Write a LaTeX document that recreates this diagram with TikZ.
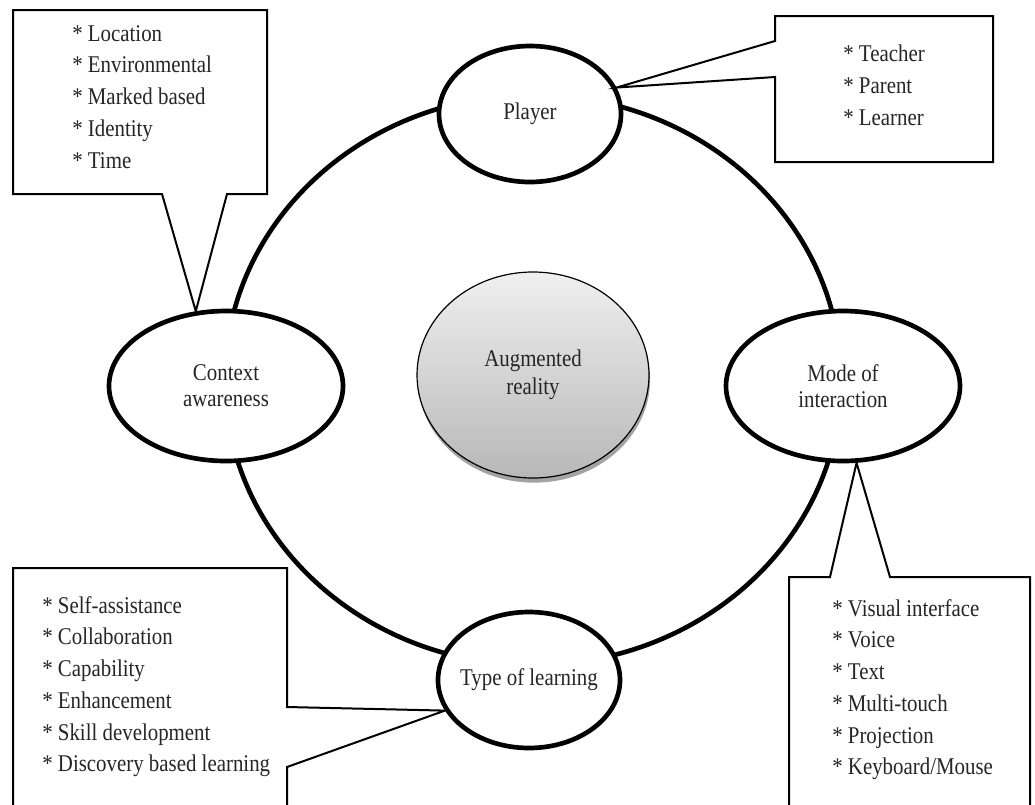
\documentclass[tikz,border=0pt]{standalone}
\usepackage{fontspec}
\setmainfont{Liberation Serif}[FakeStretch=0.87]
\usetikzlibrary{shapes.geometric,shadows}

\begin{document}
\begin{tikzpicture}[x=0.75pt,y=-0.75pt,
  lbl/.style={font=\fontsize{18}{19.5}\selectfont, text=black!85, align=center},
  outer/.style={ellipse, draw=black, line width=3.5pt, fill=white, inner sep=-15pt, lbl},
  sideell/.style={outer, minimum width=175.5pt, minimum height=112.5pt},
  vertell/.style={outer, minimum width=136.5pt, minimum height=102pt},
  callout/.style={draw=black, line width=1.5pt, fill=white, line join=miter},
  items/.style={font=\fontsize{18}{23.8}\selectfont, text=black!85, align=left, anchor=north west, inner sep=0pt},
  ring/.style={draw=black, line width=3.5pt},
]
\useasboundingbox (0,0) rectangle (1035,804);
\clip (0,0) rectangle (1035,804);

% outer ring
\coordinate (rc) at (533,380);
\draw[ring] (rc) ellipse [x radius=308, y radius=285];

% centre
\node[ellipse, draw=black, line width=0.9pt, inner sep=0pt,
      minimum width=174pt, minimum height=154.5pt,
      top color=black!6, bottom color=black!28,
      drop shadow={shadow xshift=0.8pt, shadow yshift=-3.5pt, fill=black!45, opacity=0.8},
      lbl, font=\fontsize{18}{21}\selectfont] (ar) at (533,375) {Augmented\\reality};

% outer ellipses
\node[vertell] (ply) at (530,114) {Player};
\node[sideell] (ctx) at (226,386) {Context\\awareness};
\node[sideell] (moi) at (843,386) {Mode of\\interaction};
\node[vertell] (tol) at (529,680) {Type of learning};

% callouts
\draw[callout] (13,10) -- (267,10) -- (267,194) -- (227,194) -- (ctx.112) -- (162,194) -- (13,194) -- cycle;
\node[items] (ca) at (72,25) {* Location\\* Environmental\\* Marked based\\* Identity\\* Time};

\draw[callout] (775,16) -- (993,16) -- (993,162) -- (775,162) -- (775,77) -- (ply.17) -- (775,41) -- cycle;
\node[items] (pl) at (843,45) {* Teacher\\* Parent\\* Learner};

\draw[callout] (789,577) -- (830,577) -- (moi.-80) -- (890,577) -- (1030,577) -- (1030,815) -- (789,815) -- cycle;
\node[items] (mi) at (832,599) {* Visual interface\\* Voice\\* Text\\* Multi-touch\\* Projection\\* Keyboard/Mouse};

\draw[callout] (13,568) -- (287,568) -- (287,707) -- (tol.200) -- (287,767) -- (287,815) -- (13,815) -- cycle;
\node[items] (tl) at (42,596) {* Self-assistance\\* Collaboration\\* Capability\\* Enhancement\\* Skill development\\* Discovery based learning};
\end{tikzpicture}
\end{document}
